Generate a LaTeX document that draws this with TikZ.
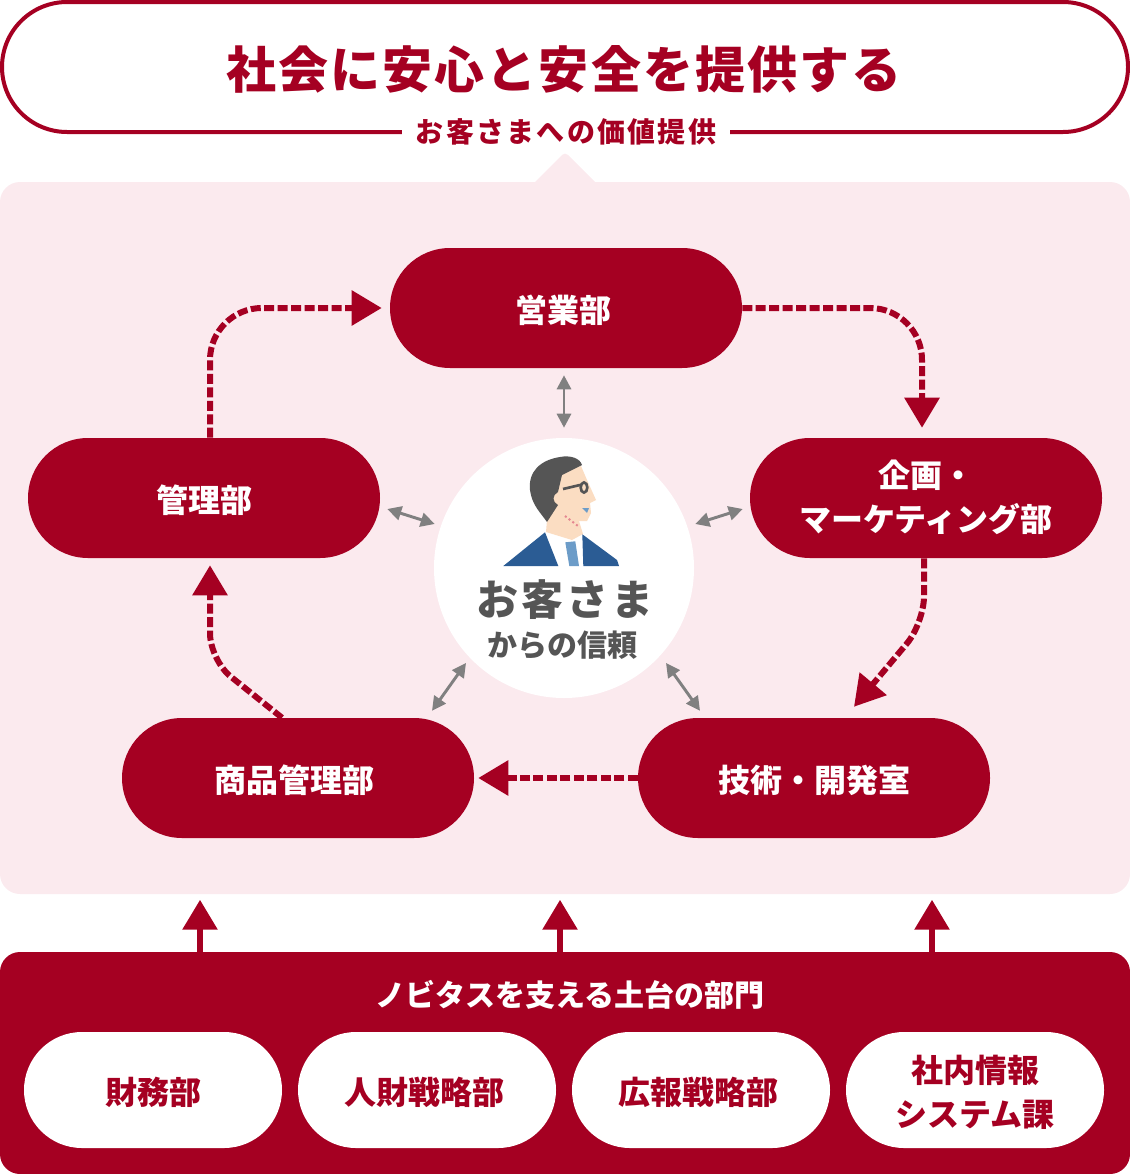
\documentclass[tikz,border=0pt]{standalone}
\usepackage{fontspec}
\setmainfont{Noto Sans CJK JP}
\usetikzlibrary{shapes.misc,calc,arrows.meta}
\definecolor{deepred}{HTML}{A50022}
\definecolor{panelpink}{HTML}{FBEAEE}
\definecolor{textgrey}{HTML}{555555}
\definecolor{arrowgrey}{HTML}{808080}
\definecolor{skintone}{HTML}{FBDDC2}
\definecolor{suitblue}{HTML}{2B5C94}
\definecolor{tieblue}{HTML}{6C9CC8}
\newcommand{\labelfont}{\fontsize{24}{33}\bfseries\selectfont}
\tikzset{
  dept/.style={rounded rectangle, fill=deepred, text=white, minimum width=264pt,
    minimum height=90pt, inner sep=0pt, font=\labelfont},
  support/.style={rounded rectangle, fill=white, text=deepred, minimum width=193.5pt,
    minimum height=87pt, inner sep=0pt, font=\labelfont},
  oneline/.style={text height=24pt, text depth=3pt},
  flow/.style={draw=deepred, line width=4.5pt, dash pattern=on 7.5pt off 2.6pt,
    -{Triangle[width=25.5pt,length=22.5pt]}},
  lift/.style={draw=deepred, line width=4.5pt, -{Triangle[width=25.5pt,length=22.5pt]}},
  link/.style={draw=arrowgrey, line width=2.2pt,
    {Triangle[width=10.5pt,length=10.5pt]}-{Triangle[width=10.5pt,length=10.5pt]}}
}
\begin{document}
\begin{tikzpicture}[x=0.75pt,y=-0.75pt]
  \useasboundingbox (0,0) rectangle (1130,1174);

  % panel behind the cycle
  \fill[panelpink, rounded corners=15pt] (0,182) rectangle (1130,894);
  \fill[panelpink, rounded corners=3pt] (529,188) -- (565,152) -- (601,188) -- cycle;

  % top banner
  \node (goal) at (565,67) [rounded rectangle, draw=deepred, fill=white, line width=3pt,
    minimum width=844.5pt, minimum height=97.5pt, inner sep=0pt] {};
  \node (goaltext) at (564,69) [text=deepred, font=\fontsize{37.5}{40}\bfseries\selectfont]
    {\addfontfeatures{LetterSpace=4.1}社会に安心と安全を提供する};
  \node (value) at (566,132) [fill=white, text=deepred, minimum width=246pt, minimum height=27pt,
    inner sep=0pt, font=\fontsize{21}{24}\bfseries\selectfont]
    {\addfontfeatures{LetterSpace=8}お客さまへの価値提供};

  % departments
  \node (eigyo) at (566,308) [dept, oneline] {営業部\kern4.5pt};
  \node (kanri) at (204,498) [dept, oneline] {管理部};
  \node (kikaku) at (926,498) [dept, align=center, text height=54pt, text depth=3.5pt]
    {企画・\\マーケティング部};
  \node (shohin) at (298,778) [dept, oneline] {商品管理部\kern6pt};
  \node (gijutsu) at (814,778) [dept, oneline] {技術・開発室};

  % customer in the middle
  \node (client) at (564,568) [circle, fill=white, minimum size=195pt, inner sep=0pt] {};
  \fill[skintone] (547,520) -- (546,532) -- (572,540) -- (583,534) -- (579,521) -- (587,521)
    -- (591,513) -- (590,503) -- (596,500) -- (587,480) -- (581,466) -- (560,472) -- cycle;
  \fill[textgrey] (582,465) .. controls (580,458) and (570,455) .. (560,457)
    .. controls (540,460) and (528,472) .. (530,490) .. controls (532,505) and (540,512) .. (547,522)
    -- (558,505) .. controls (552,502) and (552,495) .. (558,492) -- (562,475) -- cycle;
  \draw[textgrey, line width=2pt] (563,489) -- (580,485);
  \draw[textgrey, line width=2pt] (584,487.5) ellipse (2.5pt and 3.8pt);
  \fill[tieblue] (582,508) -- (589,508) -- (587,513) -- cycle;
  \draw[pink!70!deepred, line width=1.5pt, dotted] (565,516) -- (578,526);
  \fill[suitblue] (503.3,566) -- (545,532.3) -- (558.3,566) -- cycle;
  \fill[suitblue] (582.3,534.3) -- (583.3,566) -- (619,566) -- (617,560) -- cycle;
  \fill[tieblue] (565.3,542.3) -- (575.3,541.3) -- (579,566) -- (569.3,566) -- cycle;
  \node (clienta) at (565,600) [text=textgrey, font=\fontsize{31.5}{34}\bfseries\selectfont]
    {\addfontfeatures{LetterSpace=7}お客さま};
  \node (clientb) at (562,645) [text=textgrey, font=\fontsize{22.5}{26}\bfseries\selectfont]
    {からの信頼};

  % ends of the dashed connectors
  \coordinate (kikakuIn) at ($(kikaku.north)+(-4,-10)$);
  \coordinate (kikakuOut) at ($(kikaku.south)+(-2,0)$);
  \coordinate (gijutsuIn) at ($(gijutsu.north)+(40,-11)$);
  \coordinate (kanriIn) at ($(kanri.south)+(6,7)$);
  \coordinate (kanriOut) at ($(kanri.north)+(6,0)$);
  \coordinate (eigyoIn) at ($(eigyo.west)+(-8,0)$);
  \coordinate (shohinOut) at ($(shohin.north)+(-16,0)$);
  \coordinate (shohinIn) at ($(shohin.east)+(4,0)$);

  \draw[flow, rounded corners=39pt] (eigyo.east) -| (kikakuIn);
  \draw[flow, rounded corners=20pt] (kikakuOut) -- (924,623) -- (gijutsuIn);
  \draw[flow] (gijutsu.west) -- (shohinIn);
  \draw[flow, rounded corners=20pt] (shohinOut) -- (210,660) -- (kanriIn);
  \draw[flow, rounded corners=39pt] (kanriOut) |- (eigyoIn);

  % ends of the grey links
  \coordinate (eigyoLink) at ($(eigyo.south)+(-2,7)$);
  \coordinate (clientTop) at ($(client.north)+(0,-10)$);
  \coordinate (kanriLink) at ($(kanri.east)+(7,11)$);
  \coordinate (clientLeft) at ($(client.west)+(1,-44)$);
  \coordinate (kikakuLink) at ($(kikaku.west)+(-7,11)$);
  \coordinate (clientRight) at ($(client.east)+(1,-44)$);
  \coordinate (shohinLink) at ($(shohin.north)+(134,-7)$);
  \coordinate (clientLow) at ($(client)+(-98,95)$);
  \coordinate (gijutsuLink) at ($(gijutsu.north)+(-114,-7)$);
  \coordinate (clientHigh) at ($(client)+(102,95)$);

  \draw[link] (eigyoLink) -- (clientTop);
  \draw[link] (kanriLink) -- (clientLeft);
  \draw[link] (kikakuLink) -- (clientRight);
  \draw[link] (shohinLink) -- (clientLow);
  \draw[link] (gijutsuLink) -- (clientHigh);

  % foundation
  \node (base) at (565,1063) [rectangle, rounded corners=15pt, fill=deepred, minimum width=847.5pt,
    minimum height=166.5pt, inner sep=0pt] {};
  \node (basetitle) at (570,995) [text=white, font=\fontsize{22.5}{26}\bfseries\selectfont]
    {ノビタスを支える土台の部門};
  \node (zaimu) at (153,1090) [support, oneline] {財務部};
  \node (jinzai) at (427,1090) [support, oneline] {人財戦略部\kern4.5pt};
  \node (koho) at (701,1090) [support, oneline] {広報戦略部\kern4.5pt};
  \node (shanai) at (975,1090) [support, align=center, text height=57pt, text depth=3pt]
    {社内情報\\システム課};

  \foreach \liftx/\liftname in {-365/one,-5/two,367/three} {
    \coordinate (lift\liftname) at ($(base.north)+(\liftx,-52)$);
    \draw[lift] ($(base.north)+(\liftx,0)$) -- (lift\liftname);
  }
\end{tikzpicture}
\end{document}
